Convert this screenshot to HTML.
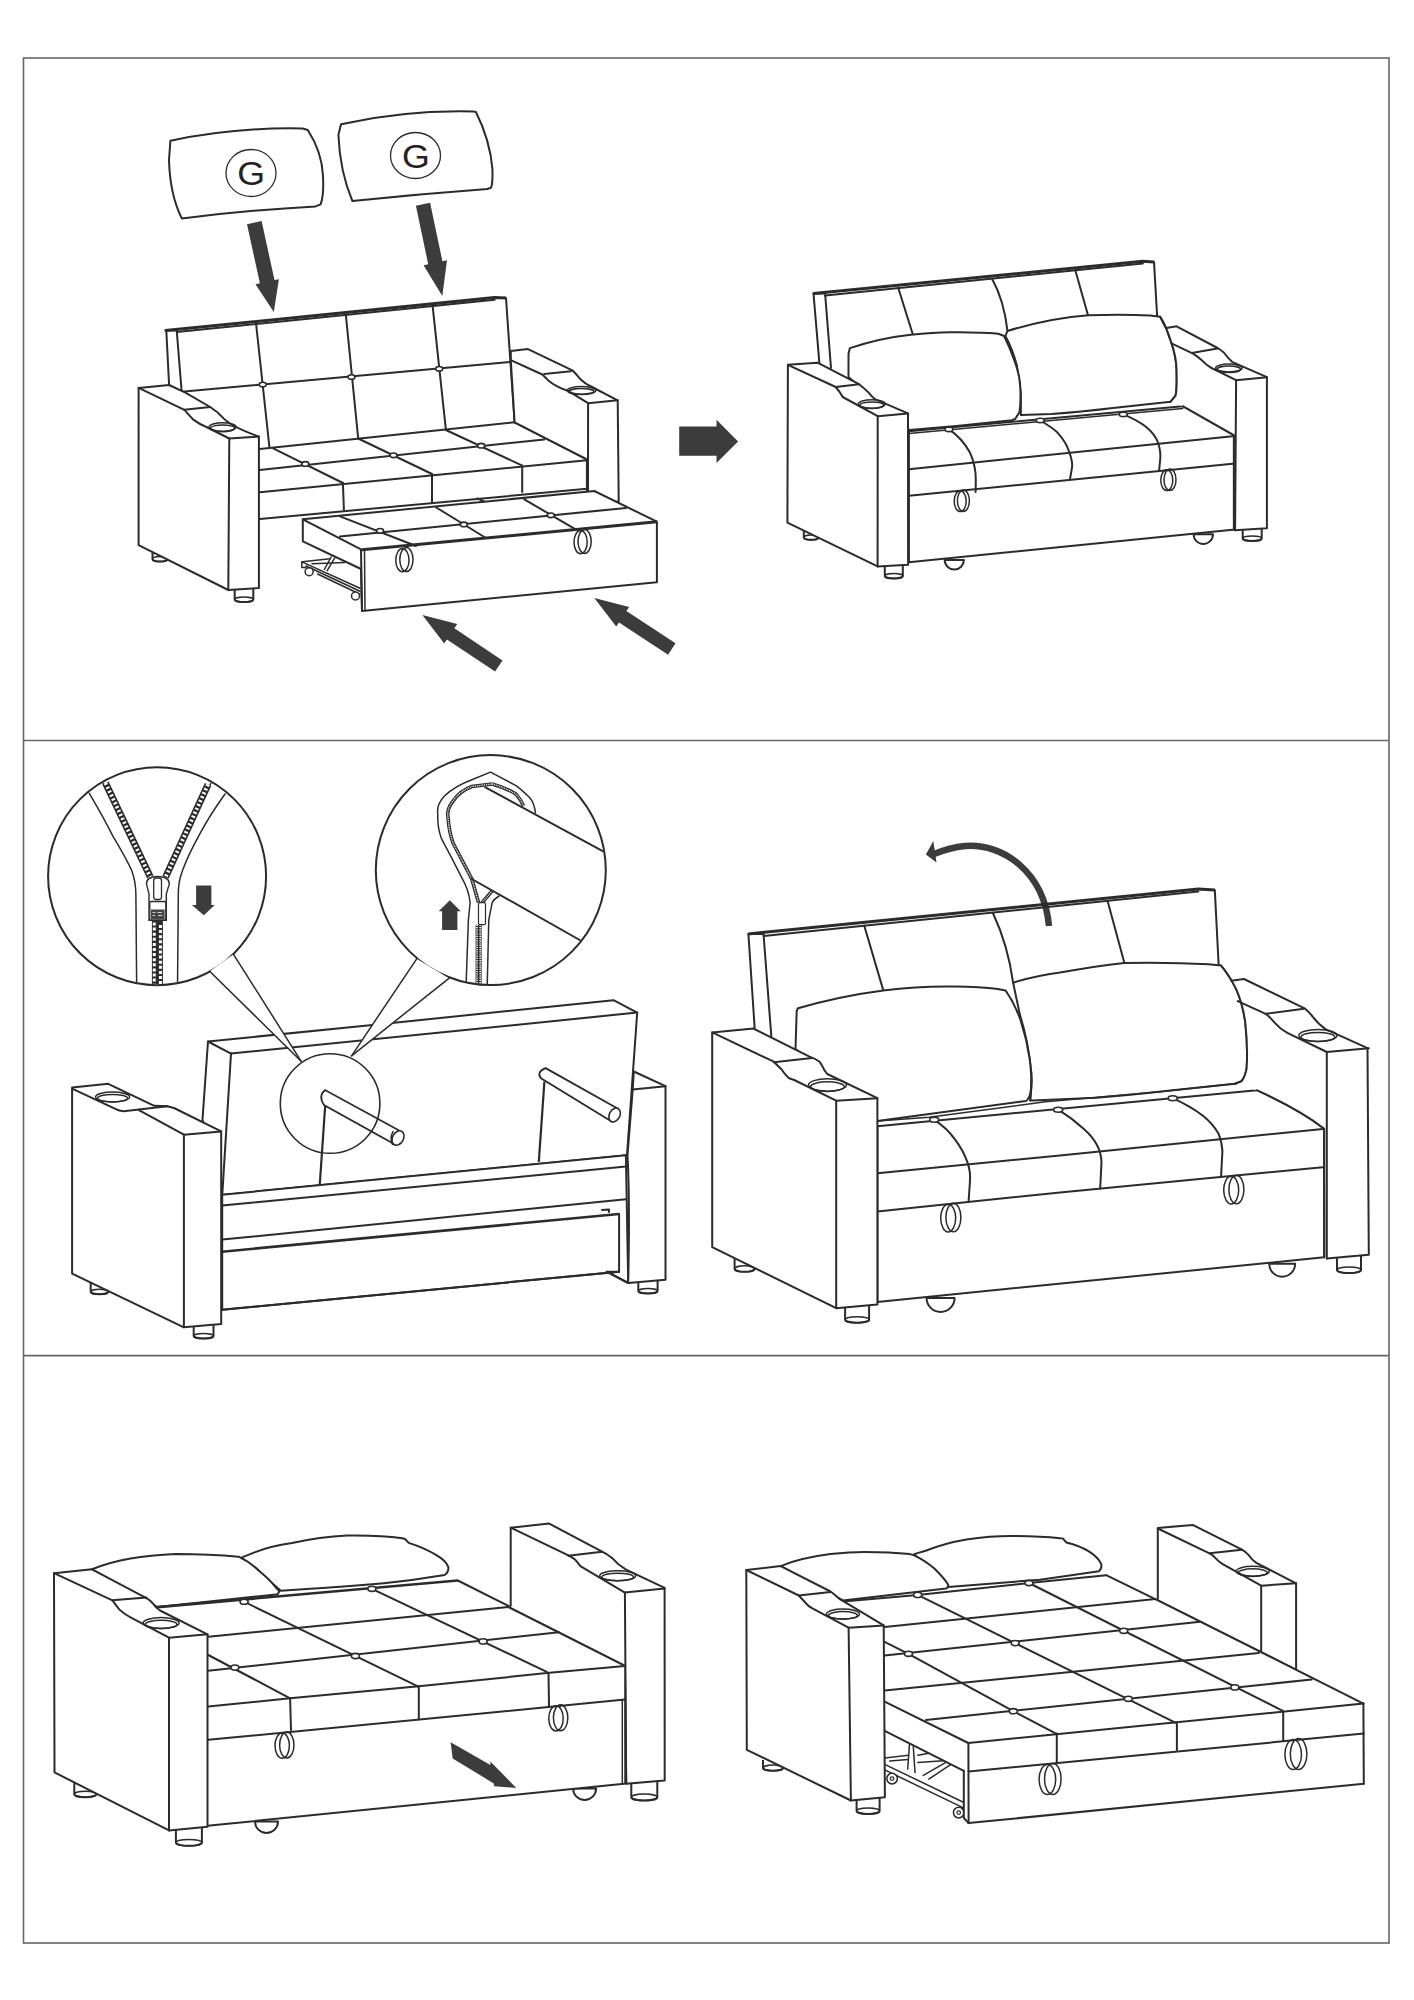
<!DOCTYPE html>
<html><head><meta charset="utf-8"><style>
html,body{margin:0;padding:0;background:#fff;width:1414px;height:2000px;overflow:hidden}
svg{display:block}
.l{fill:none;stroke:#2b2b2b;stroke-width:2;stroke-linejoin:round;stroke-linecap:round}
.l2{fill:none;stroke:#2b2b2b;stroke-width:1.5;stroke-linejoin:round;stroke-linecap:round}
.w{fill:#fff;stroke:#2b2b2b;stroke-width:2;stroke-linejoin:round}
.wf{fill:#fff;stroke:none}
.t{fill:none;stroke:#2b2b2b;stroke-width:1.3}
.bt{fill:#fff;stroke:#2b2b2b;stroke-width:1.6}
.a{fill:#3c3c3c;stroke:none}
.f{fill:none;stroke:#666;stroke-width:1.6}
</style></head><body>
<svg width="1414" height="2000" viewBox="0 0 1414 2000">
<rect x="0" y="0" width="1414" height="2000" fill="#fff"/>
<rect class="f" x="23.5" y="58" width="1365.5" height="1885"/>
<line class="f" x1="23.5" y1="740.5" x2="1389" y2="740.5"/>
<line class="f" x1="23.5" y1="1355.6" x2="1389" y2="1355.6"/>
<path class="w" d="M152.5,552 L152.5,559 A7.5,2.6 0 0 0 167.5,559 L167.5,556"/>
<ellipse class="l2" cx="160.0" cy="559.0" rx="7.5" ry="2.6"/>
<path class="w" d="M234.7,590 L234.7,599.5 A9.3,2.6 0 0 0 253.3,599.5 L253.3,588.5"/>
<ellipse class="l2" cx="244.0" cy="599.5" rx="9.3" ry="2.6"/>
<path class="l" d="M170.4,140.7 Q236,127 302.7,128.5 L307.8,130 Q322,152 323,176 Q324,196 320.6,204.4 L315.5,206.4 Q248,210 181.8,218.4 Q170,195 169,160 Z"/>
<ellipse class="t" cx="251.0" cy="173.0" rx="25.0" ry="23.5"/>
<text x="251.2" y="185.5" text-anchor="middle" font-family="Liberation Sans" font-size="32.5" fill="#222" transform="translate(251.2 0) scale(1.1 1) translate(-251.2 0)">G</text>
<path class="l" d="M341,124.2 Q405,110 473.3,111.5 L475.9,112 Q490,140 492.4,168.7 Q493,183 491,187.8 L487.3,189 Q420,194 352.4,201 Q340,172 338.4,135 Z"/>
<ellipse class="t" cx="415.5" cy="155.5" rx="25.0" ry="23.0"/>
<text x="416" y="168" text-anchor="middle" font-family="Liberation Sans" font-size="32.5" fill="#222" transform="translate(416 0) scale(1.1 1) translate(-416 0)">G</text>
<path class="a" d="M247.0,224.3 L259.9,283.3 L255.5,284.3 L273.8,312.0 L278.9,279.2 L274.5,280.1 L261.6,221.1 Z"/>
<path class="a" d="M415.9,205.8 L428.2,264.2 L423.6,265.2 L442.3,296.0 L447.0,260.3 L442.4,261.2 L430.1,202.8 Z"/>
<path class="l" d="M165.3,330.6 L176.8,330.6"/>
<path d="M165.3,330.6 L494.6,297.6 L506,298.1" fill="none" stroke="#2b2b2b" stroke-width="3" stroke-linejoin="round"/>
<path class="l" d="M176.8,332.0 L494.6,299.8"/>
<path class="l" d="M506.0,298.1 L514.6,422.3"/>
<path class="l" d="M166.3,330.6 L169.1,385.0"/>
<path class="l" d="M176.8,331.5 L181.6,390.7"/>
<path class="l" d="M181.6,391.7 L509.8,362.1"/>
<path class="l" d="M256.0,323.0 L269.4,447.0"/>
<path class="l" d="M345.8,314.4 L358.2,438.5"/>
<path class="l" d="M432.5,304.8 L445.9,430.0"/>
<path class="l" d="M259.8,449.0 L514.6,422.3"/>
<path class="l" d="M514.6,422.3 L587.2,459.5"/>
<path class="l" d="M259.8,492.2 L586.9,460.2"/>
<path class="l" d="M259.8,470.0 L544.2,439.4"/>
<path class="l" d="M273.2,448.3 L342.9,483.0"/>
<path class="l" d="M358.2,438.5 L432.0,474.0"/>
<path class="l" d="M445.9,430.0 L521.3,465.2"/>
<path class="l" d="M259.8,519.0 L586.9,488.8"/>
<path class="l" d="M342.9,483.0 L343.9,509.7"/>
<path class="l" d="M432.0,474.0 L432.0,502.6"/>
<path class="l" d="M522.2,465.5 L522.2,492.0"/>
<ellipse class="bt" cx="262.7" cy="384.6" rx="3.5" ry="2.3"/>
<ellipse class="bt" cx="351.5" cy="377.0" rx="3.5" ry="2.3"/>
<ellipse class="bt" cx="439.2" cy="368.8" rx="3.5" ry="2.3"/>
<ellipse class="bt" cx="305.3" cy="463.9" rx="3.5" ry="2.3"/>
<ellipse class="bt" cx="393.5" cy="455.3" rx="3.5" ry="2.3"/>
<ellipse class="bt" cx="481.2" cy="445.7" rx="3.5" ry="2.3"/>
<path class="w" d="M138.6,387.9 L169.1,385 L185.4,392.7 L210.2,407 Q218,412 223.6,418.4 Q232,427 258.9,436.6 L258.9,588 L228.3,590 L138.6,545.1 Z"/>
<path class="l" d="M138.6,387.9 L184.4,409.8 Q190,416 193,419.4 Q199,424 206.4,427 L229.3,438.5 L258.9,436.6"/>
<path class="l" d="M184.4,409.8 L210.2,407.0"/>
<path class="l" d="M229.3,438.5 L228.3,590.0"/>
<ellipse class="l2" cx="222.6" cy="427.0" rx="13.4" ry="4.2"/>
<ellipse class="l2" cx="222.6" cy="428.3" rx="12.0" ry="3.4"/>
<path class="w" d="M510.8,351 L528,349.1 L572.9,370.7 Q577,375 580.5,379.3 Q585,384 592,387 L617.7,400.3 L618.7,501.5 L588,503 L588,459.8 L514.6,422.3 L510.8,360.2 Z"/>
<path class="l" d="M510.8,360.2 L542.3,374.5 Q546,378 548,380.2 Q556,387 568,390.8 L588.1,403.2 L617.7,400.3"/>
<path class="l" d="M544.2,374.0 L571.0,371.3"/>
<path class="l" d="M588.1,403.2 L588.0,491.0"/>
<ellipse class="l2" cx="581.5" cy="390.4" rx="14.3" ry="3.8"/>
<ellipse class="l2" cx="581.5" cy="391.6" rx="12.5" ry="3.0"/>
<path class="l" d="M586.9,460.2 L586.9,491.0"/>
<path class="w" d="M302.8,519.3 L594.3,491 L656.9,521.7 L656.9,582.2 L362,611 L361,569 L302.8,541.3 Z"/>
<path class="l" d="M302.8,519.3 L362.0,549.8"/>
<path d="M362,549.8 L656.9,521.7" fill="none" stroke="#2b2b2b" stroke-width="3"/>
<path class="l" d="M361.0,549.8 L362.0,611.0"/>
<path class="l2" d="M364.5,551.0 L365.0,610.5"/>
<path class="l" d="M340.0,536.5 L626.1,507.9"/>
<path class="l" d="M340.0,516.4 L416.0,546.0"/>
<path class="l" d="M436.2,507.5 L486.0,538.0"/>
<path class="l" d="M524.3,499.4 L575.2,529.1"/>
<path class="l" d="M477.6,498.3 L484.0,501.5"/>
<ellipse class="bt" cx="380.1" cy="530.8" rx="3.5" ry="2.3"/>
<ellipse class="bt" cx="463.8" cy="524.4" rx="3.5" ry="2.3"/>
<ellipse class="bt" cx="550.8" cy="515.3" rx="3.5" ry="2.3"/>
<ellipse class="l2" cx="402.4" cy="560.2" rx="6.6" ry="11.6"/>
<ellipse class="l2" cx="406.4" cy="559.6" rx="6.6" ry="12.0"/>
<ellipse class="l2" cx="580.6" cy="542.1" rx="6.6" ry="11.6"/>
<ellipse class="l2" cx="584.6" cy="541.5" rx="6.6" ry="12.0"/>
<path class="l2" d="M302.4,562.1 L360.0,588.3"/>
<path class="l2" d="M306.0,566.0 L360.0,591.2"/>
<path class="l2" d="M317.6,574.0 L360.0,594.3"/>
<path class="l2" d="M301.8,561.8 L301.8,567.5 L306.0,567.5"/>
<path class="l2" d="M302.4,561.8 L330.1,558.7"/>
<path class="l2" d="M312.0,563.8 L344.8,562.6"/>
<path class="l2" d="M331.2,557.0 L324.4,569.4"/>
<path class="l2" d="M334.6,558.1 L327.2,570.6"/>
<circle cx="309.1" cy="571.7" r="4" fill="#fff" stroke="#2b2b2b" stroke-width="1.5"/>
<circle cx="355.5" cy="596" r="4" fill="#fff" stroke="#2b2b2b" stroke-width="1.5"/>
<path class="a" d="M502.5,660.4 L454.4,628.3 L457.2,624.1 L422.4,615.0 L444.2,643.6 L446.9,639.5 L495.1,671.6 Z"/>
<path class="a" d="M675.5,643.3 L626.4,611.0 L629.2,606.9 L594.3,598.0 L616.2,626.5 L619.0,622.4 L668.1,654.7 Z"/>
<path class="w" d="M803.8,530 L803.8,537.5 A7.5,2.5 0 0 0 818.7,537.5 L818.7,536"/>
<ellipse class="l2" cx="811.2" cy="537.5" rx="7.5" ry="2.5"/>
<path class="w" d="M884.8,566 L884.8,576 A9,2.5 0 0 0 902.8,576 L902.8,565"/>
<ellipse class="l2" cx="893.8" cy="576.0" rx="9.0" ry="2.5"/>
<path class="w" d="M1242.7,529 L1242.7,538.4 A9.5,2.5 0 0 0 1261.7,538.4 L1261.7,528.5"/>
<ellipse class="l2" cx="1252.2" cy="538.4" rx="9.5" ry="2.5"/>
<path class="a" d="M679.2,426.4 L716.5,426.4 L716.5,419.7 L738.1,441.4 L716.5,463 L716.5,455.8 L679.2,455.8 Z"/>
<path class="l" d="M813.5,293.6 L825.2,293.6"/>
<path d="M813.5,293.6 L1142.8,261.3 L1154,261.9" fill="none" stroke="#2b2b2b" stroke-width="3" stroke-linejoin="round"/>
<path class="l" d="M825.2,295.6 L1142.8,263.4"/>
<path class="l" d="M1154.0,261.9 L1157.1,315.6"/>
<path class="l" d="M813.5,293.6 L819.4,363.2"/>
<path class="l" d="M825.2,295.0 L831.0,367.9"/>
<path class="l" d="M898.2,287.8 L912.7,334.0"/>
<path class="l" d="M992,278.7 Q1004,300 1007.5,331"/>
<path class="l" d="M1075.1,269.5 L1088.0,315.2"/>
<path class="w" d="M944.7,560 A9.6,9.6 0 0 0 963.9,560 Z"/>
<path class="w" d="M1193.6,534.3 A9.7,9.7 0 0 0 1213,534.3 Z"/>
<path class="w" d="M908.9,431.3 L1182.8,406.2 L1235.1,435.9 L1235.1,529.6 L908.9,562.3 Z"/>
<path class="l" d="M908.9,469.2 L1235.1,435.9"/>
<path class="l" d="M908.9,495.7 L1235.1,463.6"/>
<path class="l2" d="M908.9,433.5 L1182.8,408.5"/>
<path class="l" d="M948.9,429.4 Q962,438 970.1,452.8 Q976,466 975.8,480 L975.6,492"/>
<path class="l" d="M1040.2,420.5 Q1053,428 1057.7,432.8 Q1066,442 1069,451.3 Q1073,462 1072,467.7 L1070,479"/>
<path class="l" d="M1123.3,414.4 Q1137,420 1145.9,426.7 Q1155,434 1158.2,443 Q1161,452 1160.2,459.5 L1159.2,469.7"/>
<ellipse class="bt" cx="948.9" cy="429.4" rx="4.0" ry="2.2"/>
<ellipse class="bt" cx="1040.2" cy="420.5" rx="4.0" ry="2.2"/>
<ellipse class="bt" cx="1123.3" cy="414.4" rx="4.0" ry="2.2"/>
<ellipse class="l2" cx="960.2" cy="501.2" rx="6.0" ry="10.4"/>
<ellipse class="l2" cx="963.4" cy="500.8" rx="6.0" ry="10.8"/>
<ellipse class="l2" cx="1166.8" cy="480.2" rx="6.0" ry="10.4"/>
<ellipse class="l2" cx="1170.0" cy="479.8" rx="6.0" ry="10.8"/>
<path class="w" d="M1007.4,331 Q1050,318 1088.4,315.2 Q1125,314 1150,315.6 L1160.2,316.7 Q1167,328 1170.5,340.2 Q1177,358 1176.6,373 Q1177,390 1175.6,395.6 L1170.5,401.8 Q1140,405 1113,408 Q1080,412 1051.5,414 L1020.8,415.1 Q1021,400 1020.8,393.6 Q1019,378 1016.7,364.8 Q1012,348 1005.4,336.1 Z"/>
<path class="w" d="M849.9,348.1 Q880,338 910.7,334.7 Q935,332 953.2,332.2 Q980,332 998.4,333.7 L1004.1,336 Q1010,348 1014,359.4 Q1020,375 1020.3,387.7 Q1021,402 1019.6,411.7 L1015.4,418.8 L1011.9,420.2 Q960,426 909.3,430 L848.5,377.1 L848.5,353.7 Z"/>
<path class="w" d="M787.9,364.8 L817.5,362.7 L859,384.2 Q864,388 868.4,392.4 Q872,397 875.4,399.4 L908,413.4 L908.1,564.7 L877.6,566.4 L787.4,522.6 Z"/>
<path class="l" d="M787.9,364.8 L835.7,387 Q840,392 842.7,397 L877.7,416.2 L908,413.4"/>
<path class="l" d="M835.7,387.0 L859.0,384.2"/>
<path class="l" d="M877.7,416.2 L877.6,566.4"/>
<ellipse class="l2" cx="871.8" cy="404.0" rx="13.4" ry="4.2"/>
<ellipse class="l2" cx="871.8" cy="405.2" rx="11.8" ry="3.3"/>
<path class="wf" d="M1166.4,328 L1176.6,326.3 L1217.6,348 Q1221,350 1223.8,352.5 Q1228,358 1232,361.8 L1266.9,377.2 L1266.9,528.2 L1235.1,530.2 L1235.1,435.9 L1182.8,406.2 L1170.5,401.8 L1175.6,395.6 Q1177,390 1176.6,373 Q1177,358 1170.5,340.2 Z"/>
<path class="l" d="M1166.4,328 L1176.6,326.3 L1217.6,348 Q1221,350 1223.8,352.5 Q1228,358 1232,361.8 L1266.9,377.2 L1266.9,528.2 L1235.1,530.2"/>
<path class="l" d="M1182.8,406.2 L1235.1,435.9"/>
<path class="l" d="M1160.2,316.7 Q1167,328 1170.5,340.2 Q1177,358 1176.6,373 Q1177,390 1175.6,395.6 L1170.5,401.8"/>
<path class="l" d="M1171.5,343.3 L1193,353.6 Q1197,356 1201.2,359.7 Q1206,365 1211.5,368 L1236.1,380.2 L1266.9,377.2"/>
<path class="l" d="M1193.0,352.8 L1217.6,348.6"/>
<path class="l" d="M1236.1,380.2 L1235.1,530.2"/>
<path class="l2" d="M1233.6,436.0 L1233.6,530.0"/>
<ellipse class="l2" cx="1228.9" cy="368.0" rx="13.3" ry="4.0"/>
<ellipse class="l2" cx="1228.9" cy="369.2" rx="11.7" ry="3.2"/>
<path class="w" d="M638.3,1282 L638.3,1291 A9.6,2.5 0 0 0 657.6,1291 L657.6,1280"/>
<ellipse class="l2" cx="648.0" cy="1291.0" rx="9.6" ry="2.5"/>
<path class="w" d="M90.7,1283 L90.7,1291.8 A8.7,2.5 0 0 0 108.2,1291.8 L108.2,1288"/>
<ellipse class="l2" cx="99.5" cy="1291.8" rx="8.7" ry="2.5"/>
<path class="w" d="M193.7,1327 L193.7,1336 A9.9,2.6 0 0 0 213.5,1336 L213.5,1325"/>
<ellipse class="l2" cx="203.6" cy="1336.0" rx="9.9" ry="2.6"/>
<circle cx="157.1" cy="876.2" r="109" fill="#fff" stroke="#2b2b2b" stroke-width="2"/>
<clipPath id="c1"><circle cx="157.1" cy="876.2" r="108"/></clipPath>
<g clip-path="url(#c1)">
<path class="l2" d="M89.2,793.1 Q105,820 113,836.4 Q126,858 131.6,870.3 Q136,882 135.9,895.8 L136.7,990"/>
<path class="l2" d="M225,794 Q210,815 201.2,831.3 Q188,855 182.6,870.3 Q178,882 178.3,895.8 L177.5,990"/>
<path class="l2" d="M102,781 L146,872"/>
<path class="l2" d="M211,783 L169,872"/>
<path d="M105.5,783 L150.3,877.1" stroke="#2b2b2b" stroke-width="7" fill="none"/>
<path d="M105.5,783 L150.3,877.1" stroke="#fff" stroke-width="3.8" fill="none" stroke-dasharray="2 2.3"/>
<path d="M208,784.5 L165.6,877.1" stroke="#2b2b2b" stroke-width="7" fill="none"/>
<path d="M208,784.5 L165.6,877.1" stroke="#fff" stroke-width="3.8" fill="none" stroke-dasharray="2 2.3"/>
<path d="M157.4,921 L157.4,990" stroke="#2b2b2b" stroke-width="11" fill="none"/>
<path d="M154.3,922.5 L154.3,990" stroke="#fff" stroke-width="3" fill="none" stroke-dasharray="3 2.1"/>
<path d="M160.4,925 L160.4,990" stroke="#fff" stroke-width="3" fill="none" stroke-dasharray="3 2.1"/>
<path d="M146.5,884 Q146.5,876.5 157.5,876.5 Q169.3,876.5 169.3,884 L166.3,894 L166.3,920.4 L149,920.4 L149,894 Z" fill="#fff" stroke="#2b2b2b" stroke-width="1.4"/>
<rect x="153.7" y="878" width="7.8" height="21.5" rx="2.5" fill="#fff" stroke="#2b2b2b" stroke-width="1.3"/>
<rect x="149.8" y="901.5" width="16" height="18.5" rx="1" fill="#fff" stroke="#2b2b2b" stroke-width="1.3"/>
<rect x="151" y="909.5" width="13.6" height="9.5" fill="#444"/>
<path d="M152.5,912.5 L155.5,912.5 M157.5,912.5 L162,912.5 M152.5,915.5 L155,915.5 M158,915.5 L162.5,915.5" stroke="#ccc" stroke-width="1.2"/>
</g>
<path class="a" d="M196.1,885.6 L211.4,885.6 L211.4,905.1 L214.8,905.1 L203.8,915.3 L191.9,905.1 L196.1,905.1 Z"/>
<circle cx="490.8" cy="870.1" r="115" fill="#fff" stroke="#2b2b2b" stroke-width="2"/>
<clipPath id="c2"><circle cx="490.8" cy="870.1" r="114"/></clipPath>
<g clip-path="url(#c2)">
<path class="l2" d="M535.5,812.8 Q534,802 529.5,797.5 Q522,790 516,785.6 L490.5,772.1 L471.8,779.7 Q455,786 444.7,795.8 Q436,805 437.9,814.5 Q437,826 441.3,838.3 Q452,858 461.6,877.3 Q469,890 470.1,902.7 L468.4,919.7 L465.9,990"/>
<path d="M492.2,784 L471.8,786.5 Q460,791 453.2,800.9 Q446,810 448.1,817.9 Q449,832 453.2,843.3 Q463,862 471.8,879 L478.6,902.7" stroke="#2b2b2b" stroke-width="3.6" fill="none"/>
<path d="M492.2,784 L471.8,786.5 Q460,791 453.2,800.9 Q446,810 448.1,817.9 Q449,832 453.2,843.3 Q463,862 471.8,879 L478.6,902.7" stroke="#fff" stroke-width="1.4" fill="none" stroke-dasharray="0.9 0.9"/>
<path d="M492.2,784 Q506,788 516,794.1 Q521,800 523.6,806" stroke="#2b2b2b" stroke-width="3.6" fill="none"/>
<path d="M492.2,784 Q506,788 516,794.1 Q521,800 523.6,806" stroke="#fff" stroke-width="1.4" fill="none" stroke-dasharray="0.9 0.9"/>
<path d="M492.2,890.9 L482,902.7" stroke="#2b2b2b" stroke-width="3.6" fill="none"/>
<path d="M492.2,890.9 L482,902.7" stroke="#fff" stroke-width="1.4" fill="none" stroke-dasharray="0.9 0.9"/>
<path d="M478.6,924.8 L478.6,990" stroke="#2b2b2b" stroke-width="6" fill="none"/>
<path d="M477,924.8 L477,990 M480.2,924.8 L480.2,990" stroke="#fff" stroke-width="1.6" fill="none" stroke-dasharray="1.2 1"/>
<path class="l2" d="M499,896 Q494,899 492.2,902.7 L488.8,919.7 L487.1,990"/>
<path class="l" d="M485.4,787.3 L610.0,855.0"/>
<path class="l" d="M471.8,879.0 L585.0,943.0"/>
<rect x="478.5" y="902.7" width="7" height="22" rx="1.5" fill="#fff" stroke="#2b2b2b" stroke-width="1.2"/>
</g>
<path class="a" d="M442.1,930 L457.4,930 L457.4,911.2 L460.8,911.2 L449.8,900.2 L438.7,911.2 L442.1,911.2 Z"/>
<path class="w" d="M208,1041.5 L370,1025.2 L613.5,1000.2 L637.2,1012.6 L627,1155.2 L222.2,1195 L202.5,1119.4 Z"/>
<path class="l" d="M231.0,1053.6 L637.2,1012.6"/>
<path class="l" d="M208.0,1041.5 L231.0,1053.6"/>
<path class="l" d="M231.0,1053.6 L222.2,1196.1"/>
<path d="M319.8,1184 L325.3,1104" fill="none" stroke="#2b2b2b" stroke-width="2.2"/>
<path d="M325,1090 L401,1131.5 L395,1144.5 L324,1105 Q318,1096 325,1090 Z" fill="#fff"/>
<path d="M401,1131.5 L325,1090 Q318,1096 324,1105 L395,1144.5" fill="none" stroke="#2b2b2b" stroke-width="1.8"/>
<ellipse cx="398" cy="1138" rx="5.5" ry="7.6" transform="rotate(28 398 1138)" fill="#fff" stroke="#2b2b2b" stroke-width="1.6"/>
<path class="l2" d="M393,1131.5 Q389.5,1138 392.5,1144.5"/>
<path d="M538.8,1162 L544.4,1081.6" fill="none" stroke="#2b2b2b" stroke-width="2.2"/>
<path d="M545.6,1068.1 L618,1108.8 L611.2,1121.3 L541,1078.3 Q536,1072 545.6,1068.1 Z" fill="#fff"/>
<path d="M618,1108.8 L545.6,1068.1 Q536,1072 541,1078.3 L611.2,1121.3" fill="none" stroke="#2b2b2b" stroke-width="1.8"/>
<ellipse cx="614.6" cy="1115" rx="5.3" ry="7.3" transform="rotate(28 614.6 1115)" fill="#fff" stroke="#2b2b2b" stroke-width="1.6"/>
<circle cx="330.1" cy="1103.5" r="49.8" fill="none" stroke="#2b2b2b" stroke-width="1.6"/>
<path class="w" d="M222.2,1194.7 L625.9,1155.2 L628.2,1283 L606.7,1271.7 L619.1,1271.7 L222.2,1309.8 Z"/>
<path class="l" d="M222.2,1205.6 L625.9,1166.5"/>
<path class="l" d="M222.2,1239.6 L625.9,1199.3"/>
<path d="M222.2,1251.7 L619.1,1214" fill="none" stroke="#2b2b2b" stroke-width="2.6"/>
<path class="l" d="M619.1,1214.0 L619.1,1271.7"/>
<path class="l" d="M222.2,1309.8 L619.1,1271.7"/>
<path class="l" d="M606.7,1271.7 L628.2,1283.0"/>
<path class="l" d="M602.0,1210.0 L609.0,1209.5 L609.0,1212.0"/>
<path class="w" d="M633.8,1071.5 L665.5,1086.2 L665.5,1279.7 L628.2,1283 Q630,1200 627.5,1155 L632.7,1089.6 Z"/>
<path class="l" d="M632.7,1089.6 L665.5,1086.2"/>
<path class="w" d="M72.1,1087.6 L108.2,1083.8 L154.3,1105.8 L167.4,1106.2 L174,1108 L221.2,1131.4 L221.2,1324 L183.9,1327.3 L72.1,1273.6 Z"/>
<path class="l" d="M72.1,1088.7 L115.9,1109.1 Q119,1111 123.6,1111.2 L167.4,1106.2"/>
<path class="l" d="M138.9,1110.2 L183.9,1134.7"/>
<path class="l" d="M183.9,1134.7 L221.2,1131.4"/>
<path class="l" d="M183.9,1134.7 L183.9,1327.3"/>
<ellipse class="l2" cx="112.6" cy="1097.0" rx="17.0" ry="4.9"/>
<ellipse class="l2" cx="112.6" cy="1098.2" rx="15.0" ry="3.8"/>
<path d="M209.7,971.3 L233.5,954.3 L301.2,1061.3 Z" fill="#fff"/>
<path d="M416.7,958.8 L448.9,978.3 L351.6,1055.8 Z" fill="#fff"/>
<path class="l2" d="M209.7,971.3 L301.2,1061.3"/>
<path class="l2" d="M233.5,954.3 L301.2,1061.3"/>
<path class="l2" d="M416.7,958.8 L351.6,1055.8"/>
<path class="l2" d="M448.9,978.3 L351.6,1055.8"/>
<path class="w" d="M734.6,1258 L734.6,1268.8 A10,3 0 0 0 754.6,1268.8 L754.6,1266"/>
<ellipse class="l2" cx="744.6" cy="1268.8" rx="10.0" ry="3.0"/>
<path class="w" d="M845.1,1308 L845.1,1319.7 A12,3 0 0 0 869.1,1319.7 L869.1,1306"/>
<ellipse class="l2" cx="857.1" cy="1319.7" rx="12.0" ry="3.0"/>
<path class="w" d="M1337,1257.5 L1337,1270 A12,3 0 0 0 1361,1270 L1361,1255.5"/>
<ellipse class="l2" cx="1349.0" cy="1270.0" rx="12.0" ry="3.0"/>
<path d="M1049,926 C1044,872 1003,843 965,846 Q950,847.5 934,854" fill="none" stroke="#3c3c3c" stroke-width="6.5"/>
<path class="a" d="M925.9,854.4 L933.3,841.1 L936.5,862.4 Z"/>
<path class="l" d="M748.4,933.9 L763.6,933.9"/>
<path d="M748.4,933.9 L1198.2,889.1 L1214.8,889.9" fill="none" stroke="#2b2b2b" stroke-width="3" stroke-linejoin="round"/>
<path class="l" d="M763.6,936.0 L1198.2,891.6"/>
<path class="l" d="M1214.8,889.9 L1218.6,964.2"/>
<path class="l" d="M748.4,933.9 L754.7,1028.6"/>
<path class="l" d="M763.6,935.0 L771.3,1036.2"/>
<path class="l" d="M864.2,925.5 L883.3,990.4"/>
<path class="l" d="M992.8,912.7 Q1008,945 1013.1,982.7"/>
<path class="l" d="M1107.8,901.8 L1124.4,962.9"/>
<path class="w" d="M926.6,1298 A14,14 0 0 0 954.6,1298 Z"/>
<path class="w" d="M1269.2,1263.7 A13,13 0 0 0 1295.2,1263.7 Z"/>
<path class="w" d="M877.4,1126.2 L1256.8,1090.2 Q1300,1110 1324.2,1128.7 L1324.2,1257.3 L877.4,1301.9 Z"/>
<path class="l" d="M877.4,1173.3 L1060.0,1155.5 L1325.5,1128.7"/>
<path class="l" d="M877.4,1211.5 L1060.0,1192.4 L1325.5,1166.9"/>
<path class="l" d="M934.2,1119.8 Q947,1128 954.6,1138.9 Q963,1150 967.3,1161.8 Q971,1172 969.9,1182.2 L968.6,1201.3"/>
<path class="l" d="M1058.2,1109.6 Q1072,1118 1083.6,1128.7 Q1092,1136 1096.4,1144 Q1101,1152 1101.5,1161.8 L1100.2,1188.6"/>
<path class="l" d="M1172.7,1098.2 Q1190,1106 1203.3,1116 Q1213,1124 1218.6,1133.8 Q1222,1142 1222.4,1151.6 L1221.1,1175.8"/>
<ellipse class="bt" cx="934.2" cy="1119.8" rx="4.5" ry="2.5"/>
<ellipse class="bt" cx="1058.2" cy="1109.8" rx="4.5" ry="2.5"/>
<ellipse class="bt" cx="1172.7" cy="1098.2" rx="4.5" ry="2.5"/>
<ellipse class="l2" cx="948.2" cy="1218.1" rx="7.5" ry="13.8"/>
<ellipse class="l2" cx="953.4" cy="1217.5" rx="7.5" ry="14.3"/>
<ellipse class="l2" cx="1231.2" cy="1190.1" rx="7.5" ry="13.8"/>
<ellipse class="l2" cx="1236.4" cy="1189.5" rx="7.5" ry="14.3"/>
<path class="w" d="M1013.1,982.7 Q1035,976 1060,972.6 Q1095,966 1124.4,962.9 Q1170,962 1208.4,964.2 L1221.1,965.5 Q1231,978 1236.4,989.7 Q1243,1005 1245.3,1022.7 Q1248,1048 1246.6,1068.6 Q1245,1077 1241.5,1081.3 L1235.1,1083.8 Q1205,1087 1172.7,1090.2 Q1130,1095 1096.4,1097.8 L1032.7,1100.4 L1030.2,1100.4 Q1032,1085 1031.5,1073.7 Q1028,1040 1020,1015.1 Z"/>
<path class="w" d="M798,1008.2 Q840,996 883.3,990.4 Q920,986 954.6,986.6 Q980,987 997.9,989.1 L1005.5,990.4 Q1015,1004 1020.8,1020.9 Q1027,1040 1029.7,1059.1 Q1032,1078 1031,1090 Q1030,1098 1026,1101 L877.4,1121.1 L795.5,1049 L796.7,1010.8 Z"/>
<path class="l" d="M1031.5,1080.0 L1030.2,1100.4"/>
<path class="l2" d="M877.4,1121.1 L929.1,1117.3 L1045.5,1101.7 L1160.0,1091.8 L1236.4,1083.4"/>
<path class="w" d="M712.2,1032.4 L753.5,1028.6 L809.5,1056.6 Q816,1059 819.7,1061.7 Q823,1067 824.7,1070.6 L827.3,1074 L877.4,1098.2 L877.4,1304.4 L836.2,1308.2 L712.2,1247.1 Z"/>
<path class="l" d="M712.2,1032.4 L773.8,1061.7 Q778,1066 781.5,1069.3 Q786,1076 789.1,1078.2 L794.2,1080 L836.2,1100.7 L877.4,1098.2"/>
<path class="l" d="M773.8,1062.2 L812.0,1057.9"/>
<path class="l" d="M836.2,1100.7 L836.2,1308.2"/>
<ellipse class="l2" cx="827.5" cy="1085.0" rx="19.0" ry="6.2"/>
<ellipse class="l2" cx="827.5" cy="1086.6" rx="16.8" ry="4.8"/>
<path class="wf" d="M1231.3,980.7 L1244,979 L1305.1,1008.7 Q1309,1012 1311.5,1015.1 Q1318,1024 1325.5,1029.1 L1367.5,1048.2 L1368.8,1254.8 L1326.8,1258.6 L1324.2,1128.7 Q1300,1110 1256.8,1090.2 L1235.1,1083.8 L1241.5,1081.3 Q1245,1077 1246.6,1068.6 Q1248,1048 1245.3,1022.7 Q1243,1005 1236.4,989.7 Z"/>
<path class="l" d="M1231.3,980.7 L1244,979 L1305.1,1008.7 Q1309,1012 1311.5,1015.1 Q1318,1024 1325.5,1029.1 L1367.5,1048.2 L1368.8,1254.8 L1326.8,1258.6"/>
<path class="l" d="M1256.8,1090.2 Q1300,1110 1324.2,1128.7 L1324.2,1257.3"/>
<path class="l" d="M1221.1,965.5 Q1231,978 1236.4,989.7 Q1243,1005 1245.3,1022.7 Q1248,1048 1246.6,1068.6 Q1245,1077 1241.5,1081.3 L1235.1,1083.8"/>
<path class="l" d="M1237.7,1001.1 L1265.7,1013.8 Q1271,1018 1274.6,1022.7 Q1280,1029 1287.3,1032.9 L1326.8,1052 L1368.8,1048.2"/>
<path class="l" d="M1265.7,1013.8 L1303.9,1008.7"/>
<path class="l" d="M1326.8,1052.0 L1326.8,1258.6"/>
<ellipse class="l2" cx="1317.9" cy="1035.5" rx="19.0" ry="6.0"/>
<ellipse class="l2" cx="1317.9" cy="1037.0" rx="16.8" ry="4.6"/>
<path class="w" d="M631.3,1782 L631.3,1797.3 A13,3.2 0 0 0 657.3,1797.3 L657.3,1780"/>
<ellipse class="l2" cx="644.3" cy="1797.3" rx="13.0" ry="3.2"/>
<path class="w" d="M74.3,1783 L74.3,1794.2 A11,3 0 0 0 96.3,1794.2 L96.3,1788"/>
<ellipse class="l2" cx="85.3" cy="1794.2" rx="11.0" ry="3.0"/>
<path class="w" d="M175.9,1829 L175.9,1842.6 A13,3.2 0 0 0 201.9,1842.6 L201.9,1827"/>
<ellipse class="l2" cx="188.9" cy="1842.6" rx="13.0" ry="3.2"/>
<path class="w" d="M255,1821.5 A11.5,11.5 0 0 0 278,1821.5 Z"/>
<path class="w" d="M573.1,1788.5 A11.5,11.5 0 0 0 596.1,1788.5 Z"/>
<path class="w" d="M510.7,1527.7 L549.2,1523.6 L602.1,1551.7 Q607,1554 611.7,1557.7 Q618,1565 626.1,1569.7 L664.6,1587.8 L664.7,1780.6 L626.2,1783.7 L624.9,1665.9 L508.3,1607 L510.7,1605.8 Z"/>
<path class="l" d="M510.7,1527.7 L568.4,1555.3 Q572,1557 575.6,1560.1 Q578,1563 580.4,1566.1 L624.9,1592.6 L664.6,1588.5"/>
<path class="l" d="M568.4,1555.8 L602.1,1551.7"/>
<path class="l" d="M624.9,1592.6 L626.2,1783.7"/>
<ellipse class="l2" cx="617.7" cy="1575.7" rx="18.0" ry="5.0"/>
<ellipse class="l2" cx="617.7" cy="1577.0" rx="15.8" ry="3.8"/>
<path class="wf" d="M157.7,1607.1 L457.8,1580.5 L508.3,1605.8 L624.9,1665.9 L624,1783.7 L207.5,1825.8 L207.5,1610 Z"/>
<path class="l" d="M457.8,1580.5 L508.3,1605.8"/>
<path class="l2" d="M625.0,1665.9 L625.0,1783.7"/>
<path class="l" d="M208.3,1636.7 L508.3,1607.0"/>
<path class="l" d="M244.1,1601.7 L417.9,1686.3"/>
<path class="l" d="M371.9,1588.8 L546.8,1671.9"/>
<path class="l" d="M208.3,1670.7 L558.8,1632.2"/>
<path class="l" d="M208.3,1655.0 L290.1,1698.3"/>
<path class="l" d="M208.3,1706.5 L290.1,1698.3 L418.8,1686.3 L546.8,1673.1 L624.9,1665.9"/>
<path class="l" d="M508.3,1607.0 L624.9,1665.9"/>
<path class="l" d="M208.3,1739.8 L624.9,1699.6"/>
<path class="l" d="M290.1,1698.3 L291.0,1730.0"/>
<path class="l" d="M418.8,1686.3 L418.8,1719.4"/>
<path class="l" d="M548.5,1673.0 L549.0,1706.5"/>
<path class="l" d="M207.5,1825.8 L624.0,1783.7"/>
<path class="l2" d="M622.3,1700.0 L622.3,1784.0"/>
<ellipse class="bt" cx="355.4" cy="1656.0" rx="4.0" ry="2.6"/>
<ellipse class="bt" cx="234.9" cy="1667.6" rx="4.0" ry="2.6"/>
<ellipse class="bt" cx="483.1" cy="1641.4" rx="4.0" ry="2.6"/>
<ellipse class="l2" cx="282.2" cy="1745.6" rx="7.2" ry="12.6"/>
<ellipse class="l2" cx="286.8" cy="1745.0" rx="7.2" ry="13.0"/>
<ellipse class="l2" cx="556.0" cy="1718.4" rx="7.2" ry="12.6"/>
<ellipse class="l2" cx="560.6" cy="1717.8" rx="7.2" ry="13.0"/>
<path class="a" d="M450.6,1742.2 L490.4,1765 L490.4,1761.4 L516.3,1787.9 L494.3,1786.2 L493.4,1783.2 L452.7,1758.6 Z"/>
<path class="w" d="M241.4,1557.6 L255.2,1552.1 Q270,1546 292,1542.9 Q320,1537 347.1,1535.5 Q380,1535 402.3,1538.3 L405,1539 L408.7,1542.9 Q425,1548 437.2,1555.7 Q446,1561 448.3,1566.8 Q449,1572 444.6,1575 Q415,1580 383.9,1583.3 Q340,1587 310.3,1588.8 L280.9,1590.7 Z"/>
<path class="w" d="M92,1569.3 Q110,1562 130.5,1558.5 Q150,1555 175.8,1553.9 Q210,1554 238.6,1556.7 Q250,1562 260.7,1572.3 Q270,1580 275.4,1587 L279.1,1590.7 Q279,1594 276.3,1594.4 L157.7,1607.1 Z"/>
<path d="M157.7,1607.1 L457.8,1580.5" fill="none" stroke="#2b2b2b" stroke-width="2.6"/>
<ellipse class="bt" cx="244.1" cy="1601.7" rx="4.0" ry="2.6"/>
<ellipse class="bt" cx="371.9" cy="1588.8" rx="4.0" ry="2.6"/>
<path class="w" d="M54,1573.2 L92,1569.3 L146.4,1598.1 Q150,1600 153.1,1603.7 Q156,1608 160,1610.5 L207.5,1634.3 L207.5,1826.8 L169,1830.4 L54.5,1772.4 Z"/>
<path class="l" d="M54,1573.2 L112.4,1600.3 Q116,1605 119.2,1609.4 Q124,1614 130.5,1617.3 L169,1637.7 L207.5,1634.3"/>
<path class="l" d="M112.4,1600.3 L146.4,1597.4"/>
<path class="l" d="M169.0,1637.7 L169.0,1830.4"/>
<ellipse class="l2" cx="161.1" cy="1623.0" rx="18.0" ry="5.4"/>
<ellipse class="l2" cx="161.1" cy="1624.4" rx="15.8" ry="4.1"/>
<path class="w" d="M763,1760 L763,1767.9 A10,2.8 0 0 0 783,1767.9 L783,1765"/>
<ellipse class="l2" cx="773.0" cy="1767.9" rx="10.0" ry="2.8"/>
<path class="w" d="M856.6,1800 L856.6,1810.9 A11.5,3 0 0 0 879.6,1810.9 L879.6,1797.5"/>
<ellipse class="l2" cx="868.1" cy="1810.9" rx="11.5" ry="3.0"/>
<path class="w" d="M1157.8,1528 L1192.7,1524.9 L1242,1549.7 Q1246,1552 1249.2,1555.7 Q1252,1560 1256.4,1562.9 L1296.1,1583.3 L1296.1,1669.8 L1157.8,1600.3 Z"/>
<path class="l" d="M1157.8,1528.5 L1209.5,1553.3 Q1213,1555 1215.5,1558.1 Q1219,1562 1222.7,1564.1 L1261.2,1585.7 L1296.1,1583.3"/>
<path class="l" d="M1209.5,1553.3 L1242.0,1549.7"/>
<path class="l" d="M1261.2,1585.7 L1261.2,1651.9"/>
<ellipse class="l2" cx="1252.8" cy="1571.3" rx="16.5" ry="5.0"/>
<ellipse class="l2" cx="1252.8" cy="1572.6" rx="14.5" ry="3.8"/>
<path class="l2" d="M884.7,1764.4 L962.9,1802.0"/>
<path class="l2" d="M884.7,1769.9 L962.9,1807.6"/>
<path class="l2" d="M884.7,1757.9 L908.6,1755.2"/>
<path class="l2" d="M889.8,1761.1 L908.0,1759.5"/>
<path class="l2" d="M909.5,1744.1 L907.7,1769.0"/>
<path class="l2" d="M913.2,1745.0 L915.0,1772.6"/>
<path class="l2" d="M923.3,1775.4 L947.2,1761.6"/>
<path class="l2" d="M928.8,1779.1 L950.9,1764.4"/>
<path class="l2" d="M917.8,1755.2 L928.8,1753.3"/>
<path class="l2" d="M917.8,1762.5 L943.5,1760.7"/>
<circle cx="892.1" cy="1778.6" r="5.3" fill="#fff" stroke="#2b2b2b" stroke-width="1.5"/>
<circle cx="892.1" cy="1778.6" r="1.8" fill="none" stroke="#2b2b2b" stroke-width="1.2"/>
<circle cx="958.7" cy="1812.6" r="5.3" fill="#fff" stroke="#2b2b2b" stroke-width="1.5"/>
<circle cx="958.7" cy="1812.6" r="1.8" fill="none" stroke="#2b2b2b" stroke-width="1.2"/>
<path class="wf" d="M883.7,1597 L1098.9,1572.5 L1106.2,1575.2 L1157.8,1600.3 L1363.4,1703.6 L1363.8,1783.7 L968.6,1823.1 L963.8,1818 L963.8,1770.8 L884.7,1730.8 Z"/>
<path class="l" d="M884.6,1627.1 L1155.4,1599.0"/>
<path class="l" d="M917.7,1594.9 L1175.8,1722.8"/>
<path class="l" d="M1029.0,1583.0 L1282.8,1710.8"/>
<path class="l" d="M884.6,1655.6 L1199.9,1621.8"/>
<path class="l" d="M884.6,1641.8 L908.5,1653.8 L1013.3,1711.2 L1056.5,1733.8"/>
<path class="l" d="M884.6,1690.6 L1258.8,1653.1"/>
<path class="l" d="M926.0,1720.0 L1311.7,1679.5"/>
<path class="l" d="M884.6,1701.6 L968.3,1743.0"/>
<path class="l" d="M968.3,1743.0 L1363.4,1703.6"/>
<path class="l" d="M1106.2,1575.2 L1157.8,1600.3 L1363.4,1703.6"/>
<path class="l" d="M968.6,1771.5 L1363.8,1733.6"/>
<path class="l" d="M968.6,1823.1 L1363.8,1783.7"/>
<path class="l" d="M968.4,1743.0 L968.6,1823.1"/>
<path class="l" d="M1056.8,1733.6 L1056.8,1763.4"/>
<path class="l" d="M1176.9,1722.5 L1176.9,1750.0"/>
<path class="l" d="M1283.2,1711.5 L1283.2,1740.7"/>
<path class="l" d="M884.7,1730.8 L963.8,1770.8"/>
<path class="l" d="M1363.4,1703.6 L1363.8,1783.7"/>
<path class="l" d="M963.8,1770.8 L963.8,1818.0 L968.6,1823.1"/>
<ellipse class="bt" cx="1015.2" cy="1643.1" rx="4.0" ry="2.6"/>
<ellipse class="bt" cx="1123.7" cy="1630.8" rx="4.0" ry="2.6"/>
<ellipse class="bt" cx="908.5" cy="1653.8" rx="4.0" ry="2.6"/>
<ellipse class="bt" cx="1013.3" cy="1711.2" rx="4.0" ry="2.6"/>
<ellipse class="bt" cx="1128.3" cy="1698.8" rx="4.0" ry="2.6"/>
<ellipse class="bt" cx="1234.8" cy="1687.4" rx="4.0" ry="2.6"/>
<ellipse class="l2" cx="1047.4" cy="1779.5" rx="8.3" ry="15.0"/>
<ellipse class="l2" cx="1052.8" cy="1778.9" rx="8.3" ry="15.5"/>
<ellipse class="l2" cx="1293.2" cy="1754.6" rx="8.3" ry="15.0"/>
<ellipse class="l2" cx="1298.6" cy="1754.0" rx="8.3" ry="15.5"/>
<path class="w" d="M914.2,1554.1 L925.6,1550.7 Q945,1543 966.3,1539.4 Q990,1536 1011.6,1536 Q1040,1536 1060,1538.3 L1062.8,1538.4 L1066.4,1542.5 Q1080,1546 1088.1,1550.9 Q1098,1557 1101.3,1564.1 Q1102,1569 1098.9,1571.3 L1040,1579.7 L948.2,1587 Z"/>
<path class="w" d="M780.7,1566.1 Q800,1558 830.5,1554.1 Q850,1552 864.5,1551.9 Q890,1552 909.7,1554.1 L914.2,1555.3 Q926,1561 934.6,1568.8 Q944,1578 948.2,1584.7 Q948,1588 946,1588.5 L843,1600.5 Z"/>
<path class="l" d="M843.0,1601.5 L917.7,1594.9 L1029.0,1583.0 L1106.2,1575.2"/>
<ellipse class="bt" cx="917.7" cy="1594.9" rx="4.0" ry="2.6"/>
<ellipse class="bt" cx="1029.0" cy="1583.0" rx="4.0" ry="2.6"/>
<path class="w" d="M746.3,1570 L780.7,1566.1 L830.5,1591.5 Q834,1594 837.3,1597.1 Q840,1600 844.1,1601.6 L883.7,1625.4 L884.9,1797.3 L850.9,1800.5 L746.8,1749.8 Z"/>
<path class="l" d="M746.3,1570 L798.8,1595.5 Q802,1599 805.6,1602.8 Q808,1606 812.4,1608.4 L848.6,1627.7 L883.7,1625.4"/>
<path class="l" d="M798.8,1595.5 L830.5,1591.9"/>
<path class="l" d="M848.6,1627.7 L850.9,1800.5"/>
<ellipse class="l2" cx="843.0" cy="1614.1" rx="16.5" ry="5.0"/>
<ellipse class="l2" cx="843.0" cy="1615.4" rx="14.5" ry="3.8"/>
</svg>
</body></html>
